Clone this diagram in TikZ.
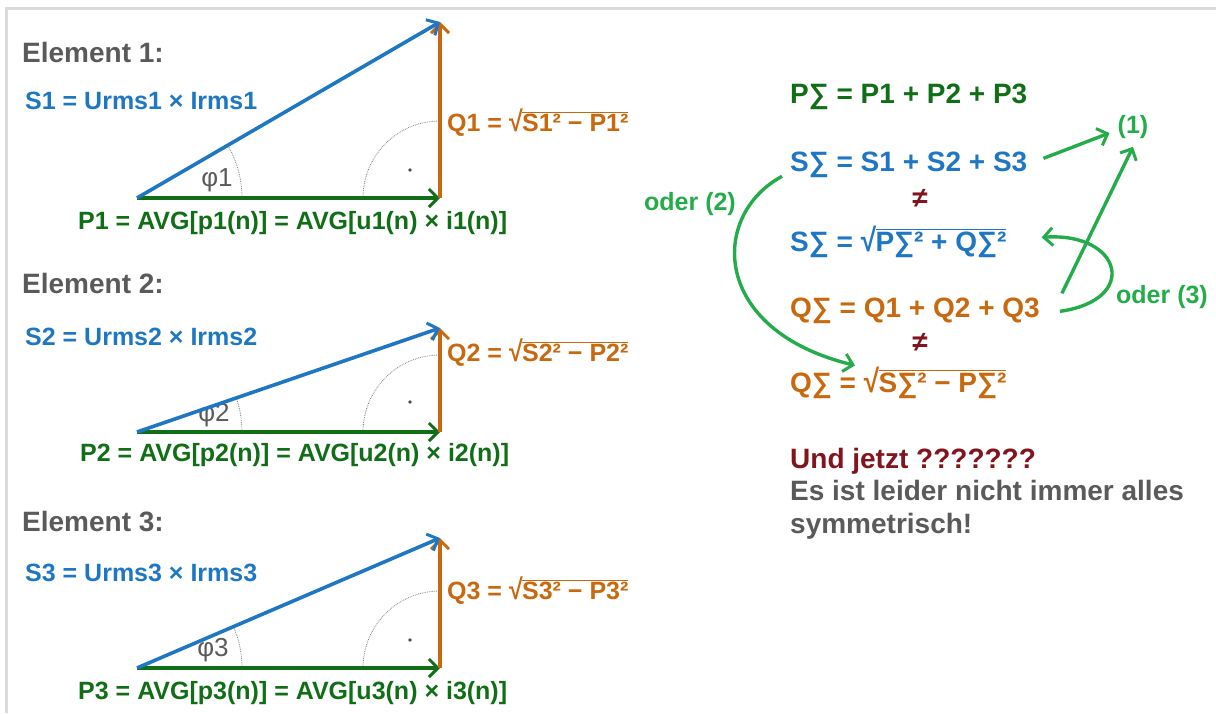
\documentclass[tikz,border=0pt]{standalone}
\usepackage{fontspec}
\setmainfont{Liberation Sans}
\usetikzlibrary{arrows.meta,calc}
\definecolor{cblue}{RGB}{31,119,196}
\definecolor{cgreen}{RGB}{16,110,22}
\definecolor{corange}{RGB}{200,105,15}
\definecolor{cgray}{RGB}{90,90,90}
\definecolor{cred}{RGB}{130,20,30}
\definecolor{lgreen}{RGB}{36,172,74}
\definecolor{framecol}{RGB}{218,218,218}
\newcommand\myrad[2]{\scalebox{1}[1.15]{√}\kern-0.6pt\vbox{\hrule height #1\kern 1.2pt\hbox{#2}}}
\tikzset{
  lbl/.style={font=\bfseries\fontsize{25}{25}\selectfont, inner sep=0pt, anchor=base west},
  big/.style={font=\bfseries\fontsize{28}{28}\selectfont, inner sep=0pt, anchor=base west},
  elem/.style={big, text=cgray},
  phil/.style={font=\fontsize{26}{26}\selectfont, text=cgray, inner sep=0pt},
  vec/.style={line width=3.6pt, -{Straight Barb[length=9pt,width=18pt,line width=3pt]}},
  pvec/.style={vec, draw=cgreen},
  qvec/.style={vec, draw=corange},
  svec/.style={vec, draw=cblue},
  dotarc/.style={densely dotted, line width=0.8pt, draw=black!50},
  garrow/.style={line width=3.4pt, draw=lgreen, -{Straight Barb[length=9pt,width=18pt,line width=3pt]}},
  oder/.style={font=\bfseries\fontsize{25}{25}\selectfont, text=lgreen, inner sep=0pt},
}
\begin{document}
\begin{tikzpicture}[x=1pt,y=-1pt]
\useasboundingbox (0,0) rectangle (1216,713);
\draw[framecol, line width=3pt] (1216,8) -- (6,8) -- (6,713);

% ---------- Element 1
\node[elem] (e1) at (22,62) {Element 1:};
\node[lbl, text=cblue] (s1) at (25,109) {S1 = Urms1 × Irms1};
\coordinate (A1) at (137,198);
\coordinate (B1) at (440,198);
\coordinate (C1) at (440,22);
\draw[dotarc] ([xshift=105pt]A1) arc[start angle=0, end angle=-30.15, radius=105];
\draw[dotarc] ([xshift=-77pt]B1) arc[start angle=180, end angle=270, radius=77];
\fill[black!70] ($(B1)+(-30,-28)$) circle (1.8pt);
\node[phil] (f1) at ($(A1)+(80,-18)$) {φ1};
\draw[pvec] (A1) -- (B1);
\draw[qvec] (B1) -- (C1);
\draw[svec] (A1) -- (C1);
\node[lbl, text=corange] (q1) at (447,131) {Q1 = \myrad{0.8pt}{S1² − P1²}};
\node[lbl, text=cgreen] (p1) at (78,229) {P1 = AVG[p1(n)] = AVG[u1(n) × i1(n)]};

% ---------- Element 2
\node[elem] (e2) at (22,293) {Element 2:};
\node[lbl, text=cblue] (s2) at (25,345) {S2 = Urms2 × Irms2};
\coordinate (A2) at (137,432);
\coordinate (B2) at (440,432);
\coordinate (C2) at (440,328);
\draw[dotarc] ([xshift=105pt]A2) arc[start angle=0, end angle=-18.94, radius=105];
\draw[dotarc] ([xshift=-77pt]B2) arc[start angle=180, end angle=270, radius=77];
\fill[black!70] ($(B2)+(-30,-30)$) circle (1.8pt);
\node[phil] (f2) at ($(A2)+(77,-17)$) {φ2};
\draw[pvec] (A2) -- (B2);
\draw[qvec] (B2) -- (C2);
\draw[svec] (A2) -- (C2);
\node[lbl, text=corange] (q2) at (447,361) {Q2 = \myrad{0.8pt}{S2² − P2²}};
\node[lbl, text=cgreen] (p2) at (80,461) {P2 = AVG[p2(n)] = AVG[u2(n) × i2(n)]};

% ---------- Element 3
\node[elem] (e3) at (22,531) {Element 3:};
\node[lbl, text=cblue] (s3) at (25,581) {S3 = Urms3 × Irms3};
\coordinate (A3) at (137,668);
\coordinate (B3) at (440,668);
\coordinate (C3) at (440,538);
\draw[dotarc] ([xshift=105pt]A3) arc[start angle=0, end angle=-23.22, radius=105];
\draw[dotarc] ([xshift=-77pt]B3) arc[start angle=180, end angle=270, radius=77];
\fill[black!70] ($(B3)+(-30,-28)$) circle (1.8pt);
\node[phil] (f3) at ($(A3)+(76,-18)$) {φ3};
\draw[pvec] (A3) -- (B3);
\draw[qvec] (B3) -- (C3);
\draw[svec] (A3) -- (C3);
\node[lbl, text=corange] (q3) at (447,599) {Q3 = \myrad{0.8pt}{S3² − P3²}};
\node[lbl, text=cgreen] (p3) at (78,699) {P3 = AVG[p3(n)] = AVG[u3(n) × i3(n)]};

% ---------- right side
\node[big, text=cgreen] (psum) at (790,103) {P∑ = P1 + P2 + P3};
\node[big, text=cblue] (ssum) at (790,171) {S∑ = S1 + S2 + S3};
\node[big, text=cred, anchor=center] (ne1) at (920,198) {≠};
\node[big, text=cblue] (ssq) at (790,251) {S∑ = \myrad{1.2pt}{P∑² + Q∑²}};
\node[big, text=corange] (qsum) at (790,317) {Q∑ = Q1 + Q2 + Q3};
\node[big, text=cred, anchor=center] (ne2) at (920,342) {≠};
\node[big, text=corange] (qsq) at (790,392) {Q∑ = \myrad{1.2pt}{S∑² − P∑²}};

\node[oder] (one) at (1133,127) {(1)};
\node[oder] (o2) at (690,204) {oder (2)};
\node[oder] (o3) at (1162,297) {oder (3)};

\draw[garrow] ([xshift=16pt,yshift=6pt]ssum.east) -- ([xshift=-8pt,yshift=-6pt]one.west);
\draw[garrow] ([xshift=22pt,yshift=17pt]qsum.east) -- ([yshift=-8pt]one.south);
\draw[garrow] ([xshift=20pt,yshift=-1pt]qsum.east) .. controls (1140,300) and (1122,232) .. ([xshift=35pt,yshift=4pt]ssq.east);
\draw[garrow] ([xshift=-8pt,yshift=-12pt]ssum.west) .. controls (710,215) and (710,330) .. ([xshift=65pt,yshift=17pt]qsq.west);

\node[big, text=cred] (und) at (790,468) {Und jetzt ???????};
\node[big, text=cgray] (es) at (790,500) {Es ist leider nicht immer alles};
\node[big, text=cgray] (sym) at (790,533) {symmetrisch!};
\end{tikzpicture}
\end{document}
